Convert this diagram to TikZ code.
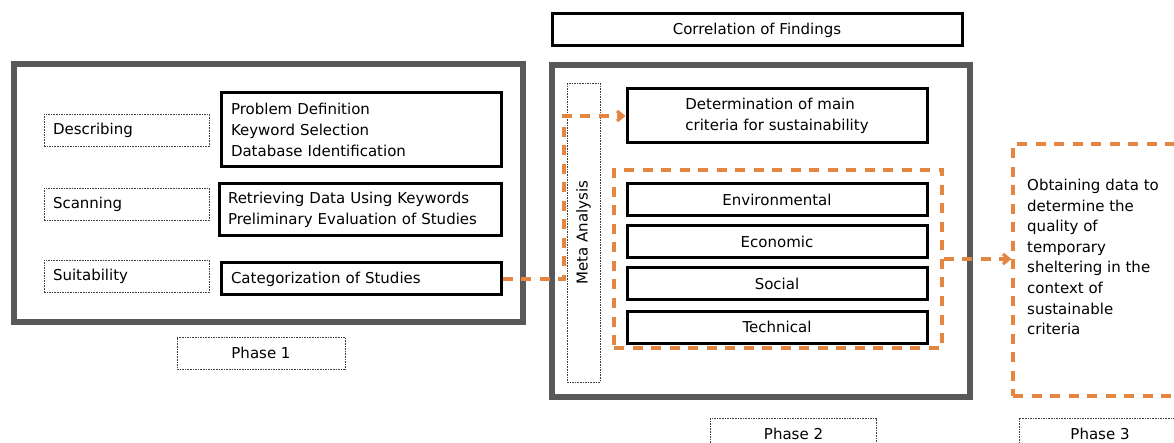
\documentclass[tikz,border=0pt]{standalone}
\usepackage{fontspec}
\setmainfont{DejaVu Sans}
\usetikzlibrary{arrows.meta}

\definecolor{frame}{RGB}{89,89,89}
\definecolor{ora}{RGB}{229,134,64}
\tikzset{
  bigframe/.style={draw=frame,line width=6pt,minimum width=#1},
  blackbox/.style={draw=black,line width=3pt,minimum height=32pt},
  dotbox/.style={draw=black!75,line width=0.9pt,dash pattern=on 1.6pt off 1pt,minimum height=32pt},
  oradash/.style={draw=ora,line width=3.2pt,dash pattern=on 10pt off 8.5pt},
  txt/.style={font=\fontsize{15}{21}\selectfont}
}

\begin{document}
\begin{tikzpicture}[x=1pt,y=1pt,yscale=-1,xscale=1]
\useasboundingbox (0,0) rectangle (1174,443);
\clip (0,0) rectangle (1174,443);
% phase 1
\node [bigframe=509pt,minimum height=258pt] (frameone) at (268.5,193) {};
\node [dotbox,txt,text width=147pt,inner xsep=9pt,align=left] (desc) at (126.5,130) {Describing};
\node [dotbox,txt,text width=147pt,inner xsep=9pt,align=left] (scan) at (126.5,204) {Scanning};
\node [dotbox,txt,text width=147pt,inner xsep=9pt,align=left] (suit) at (126.5,276) {Suitability};
\node [blackbox,txt,minimum height=74pt,text width=260pt,inner xsep=10pt,align=left] (probdef) at (361,130) {Problem Definition\\Keyword Selection\\Database Identification};
\node [blackbox,txt,minimum height=52pt,text width=264pt,inner xsep=9pt,align=left] (retr) at (360,210) {Retrieving Data Using Keywords\\Preliminary Evaluation of Studies};
\node [blackbox,txt,text width=260pt,inner xsep=10pt,align=left] (categ) at (361,279) {Categorization of Studies};
\node [dotbox,txt,minimum width=168pt] (phaseone) at (261,353) {Phase 1};
% phase 2
\node [blackbox,txt,minimum width=410pt] (corr) at (757,30) {Correlation of Findings};
\node [bigframe=418pt,minimum height=332pt] (frametwo) at (761,231) {};
\node [dotbox,txt,minimum width=299pt,minimum height=33pt,rotate=90] (meta) at (583.5,232.5) {Meta Analysis};
\node [blackbox,txt,minimum width=300pt,minimum height=54pt,align=left] (det) at (777,116) {Determination of main\\criteria for sustainability};
\node [oradash,minimum width=328pt,minimum height=178pt] (crit) at (778,259) {};
\node [blackbox,txt,minimum width=300pt] (env) at (777,200) {Environmental};
\node [blackbox,txt,minimum width=300pt] (econ) at (777,242) {Economic};
\node [blackbox,txt,minimum width=300pt] (soc) at (777,284) {Social};
\node [blackbox,txt,minimum width=300pt] (tech) at (777,327) {Technical};
\node [dotbox,txt,minimum width=166pt] (phasetwo) at (793.5,434) {Phase 2};
% phase 3
\node [oradash,minimum width=177pt,minimum height=252pt] (res) at (1101.5,270) {};
\node [txt,anchor=north west,align=left,inner sep=0pt,font=\fontsize{15}{20.6}\selectfont] (restext) at (1027,179) {Obtaining data to\\determine the\\quality of\\temporary\\sheltering in the\\context of\\sustainable\\criteria};
\node [dotbox,txt,minimum width=162pt] (phasethree) at (1100,434) {Phase 3};
% connectors
\coordinate (turn) at (564,116);
\draw [oradash,-{Straight Barb[length=6pt,width=10pt]}] (categ.east) -| (turn) -- (det.west);
\draw [oradash,-{Straight Barb[length=6pt,width=10pt]}] (crit.east) -- (crit.east -| res.west);
\end{tikzpicture}
\end{document}
